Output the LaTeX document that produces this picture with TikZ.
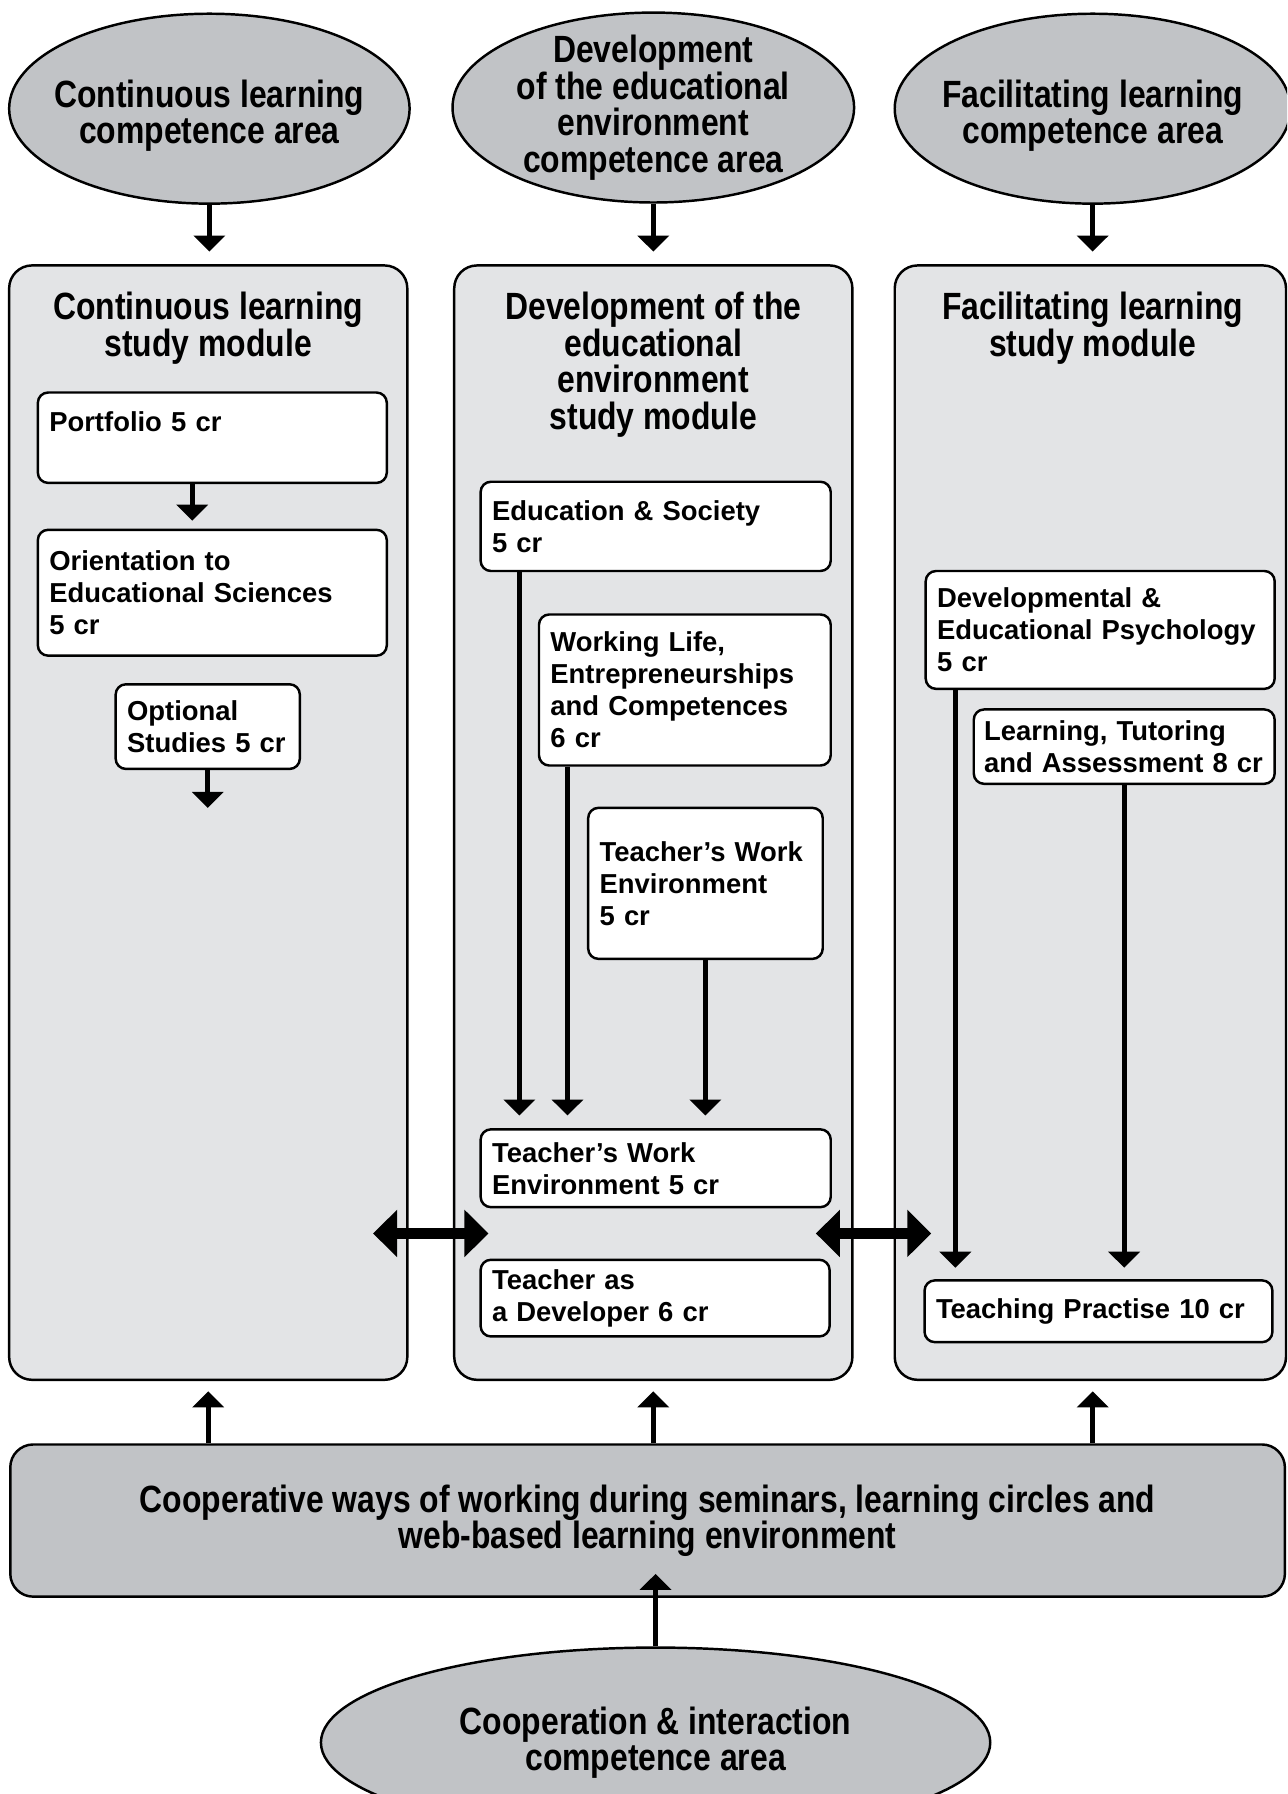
\documentclass[tikz,border=0pt]{standalone}
\usepackage{fontspec}
\setmainfont{Liberation Sans}
\newfontfamily\narrowfam[FakeStretch=0.84]{Liberation Sans}
\usetikzlibrary{positioning,arrows.meta,shapes.geometric,calc}
\definecolor{ovalgray}{RGB}{193,195,198}
\definecolor{modgray}{RGB}{227,228,230}
\newlength{\px}
\setlength{\px}{0.1144mm}
\newcommand{\titlefont}{\narrowfam\bfseries\fontsize{10.8}{10.4}\selectfont}
\newcommand{\coursefont}{\bfseries\fontsize{7.8}{9.1}\selectfont}

\begin{document}
\begin{tikzpicture}[
  x=0.1144mm, y=-0.1144mm,
  oval/.style={draw, ellipse, fill=ovalgray, line width=0.7pt, inner sep=0pt,
               minimum width=350\px, minimum height=166\px},
  module/.style={draw, rounded corners=20\px, fill=modgray, line width=0.7pt,
                 minimum width=348\px, minimum height=974\px},
  ttl/.style={font=\titlefont, align=center, inner sep=0pt},
  course/.style={draw, rounded corners=9\px, fill=white, line width=0.7pt,
                 font=\coursefont, align=left, anchor=north west,
                 inner xsep=10\px, inner ysep=0pt},
  arr/.style={-{Triangle[width=3.1mm,length=1.6mm]}, line width=1.4pt},
  gap/.style={shorten >=#1},
  dbl/.style={{Triangle[width=4.6mm,length=2.4mm]}-{Triangle[width=4.6mm,length=2.4mm]},
              line width=1.03mm}
]
\useasboundingbox (0,0) rectangle (1125,1568);
\clip (0,0) rectangle (1125,1568);
\fill[white] (0,0) rectangle (1125,1568);

\node[oval, label={[ttl, yshift=-0.7mm]center:Continuous learning\\competence area}] (eL) at (183,95) {};
\node[oval, minimum width=351\px, label={[ttl]center:Development\\of the educational\\environment\\competence area}] (eM) at (571,94) {};
\node[oval, minimum width=346\px, label={[ttl, yshift=-0.7mm]center:Facilitating learning\\competence area}] (eR) at (955,95) {};

\node[module] (mL) at (182,719) {};
\node[module] (mM) at (571,719) {};
\node[module, minimum width=342\px] (mR) at (953,719) {};

\node[ttl, anchor=north, below=24\px of mL.north] (tL) {Continuous learning\\study module};
\node[ttl, anchor=north, below=24\px of mM.north] (tM) {Development of the\\educational\\environment\\study module};
\node[ttl, anchor=north, below=24\px of eR.south |- mR.north] (tR) {Facilitating learning\\study module};

\node[course, text width=285\px, minimum height=79\px] (port) at (32,342) {Portfolio 5 cr\\\mbox{}};
\node[course, text width=285\px, minimum height=110\px] (orient) at (32,462) {Orientation to\\Educational Sciences\\5 cr};
\node[course, text width=141\px, minimum height=74\px] (opt) at (100,597) {Optional\\Studies 5 cr};

\node[course, text width=286\px, minimum height=78\px] (edsoc) at (419,420) {Education \& Society\\5 cr};
\node[course, text width=235\px, minimum height=132\px] (work) at (470,536) {Working Life,\\Entrepreneurships\\and Competences\\6 cr};
\node[course, text width=185\px, minimum height=132\px] (tweA) at (513,705) {Teacher’s Work\\Environment\\5 cr};
\node[course, text width=286\px, minimum height=68\px] (tweB) at (419,986) {Teacher’s Work\\Environment 5 cr};
\node[course, text width=285\px, minimum height=67\px] (tad) at (419,1100) {Teacher as\\a Developer 6 cr};

\node[course, text width=285\px, minimum height=103\px] (devpsy) at (808,498) {Developmental \&\\Educational Psychology\\5 cr};
\node[course, text width=245\px, minimum height=65\px, inner xsep=9\px] (ltas) at (850,619) {Learning, Tutoring\\and Assessment 8 cr};
\node[course, text width=284\px, minimum height=54\px] (tp) at (807,1118) {Teaching Practise 10 cr};

\node[draw, rounded corners=20\px, fill=ovalgray, line width=0.7pt, font=\titlefont,
      align=center, minimum width=1114\px, minimum height=133\px] (coop) at (566,1329)
  {Cooperative ways of working during seminars, learning circles and\\web-based learning environment};
\node[oval, minimum width=585\px, label={[ttl]center:Cooperation \& interaction\\competence area}] (eC) at (573,1523) {};

\draw[arr, gap=1.26mm] (eL.south) -- (eL.south |- mL.north);
\draw[arr, gap=1.26mm] (eM.south) -- (eM.south |- mM.north);
\draw[arr, gap=1.26mm] (eR.south) -- (eR.south |- mR.north);

\coordinate (p1) at ($(port.south west)+(136,0)$);
\draw[arr, gap=0.8mm] (p1) -- (p1 |- orient.north);
\coordinate (optend) at ($(opt.south)+(0,33)$);
\draw[arr] (opt.south) -- (optend);

\coordinate (m1) at ($(edsoc.south west)+(35,0)$);
\coordinate (m2) at ($(work.south west)+(26,0)$);
\draw[arr, gap=1.26mm] (m1) -- (m1 |- tweB.north);
\draw[arr, gap=1.26mm] (m2) -- (m2 |- tweB.north);
\draw[arr, gap=1.26mm] (tweA.south) -- (tweA.south |- tweB.north);

\coordinate (r1) at ($(devpsy.south west)+(27,0)$);
\draw[arr, gap=1.14mm] (r1) -- (r1 |- tp.north);
\draw[arr, gap=1.14mm] (ltas.south) -- (ltas.south |- tp.north);

\coordinate (mid) at ($(tweB.south)!0.5!(tad.north)$);
\draw[dbl] ($(mL.east |- mid)+(-31,0)$) -- ($(mM.west |- mid)+(31,0)$);
\draw[dbl] ($(mM.east |- mid)+(-33,0)$) -- ($(mR.west |- mid)+(33,0)$);

\draw[arr, gap=1.03mm] (coop.north -| mL) -- (mL.south);
\draw[arr, gap=1.03mm] (coop.north -| mM) -- (mM.south);
\draw[arr, gap=1.03mm] (coop.north -| eR) -- (mR.south -| eR);
\draw[arr] (eC.north) -- ($(eC.north |- coop.south)+(0,-21)$);
\end{tikzpicture}
\end{document}
